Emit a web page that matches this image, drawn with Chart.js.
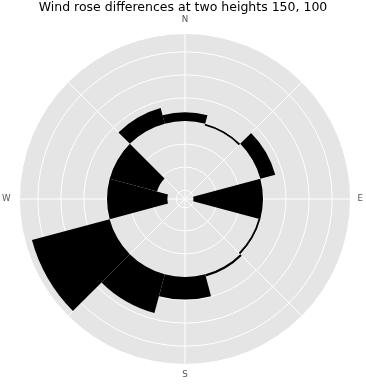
<!DOCTYPE html>
<html>
<head>
<meta charset="utf-8">
<title>Wind rose differences</title>
<script src="https://cdn.jsdelivr.net/npm/chart.js@4/dist/chart.umd.min.js"></script>
<style>
  html, body { margin: 0; padding: 0; background: #ffffff; }
  #wrap { width: 366px; height: 385px; position: relative; }
</style>
</head>
<body>
<div id="wrap"><canvas id="rose"></canvas></div>
<script>
// Wind direction sectors (degrees clockwise from north), one bar per sector
const directions = [0, 30, 60, 90, 120, 150, 180, 210, 240, 270, 300, 330];
// Difference of the direction frequencies between the two heights
const differences = [0.38, -0.08, 0.67, -3.02, -0.08, 0.10, 0.98, 1.74, 3.49, -2.62, -2.13, 0.70];
// Bars start from this radial value and grow outward (positive) or inward (negative)
const baseline = 0;
const sectorWidth = 30;
// Compass labels around the rose, every 45 degrees
const compassLabels = ['N', '', 'E', '', 'S', '', 'W', ''];
// Radial grid circles and radial limits
const ringTicks = [-3, -2, -1, 0, 1, 2, 3];
const radialMin = -3.384;
const radialMax = 3.774;

const DEG = Math.PI / 180;

// Polar bar controller: each arc spans its sector and runs from the baseline to baseline + difference
class DifferenceRoseController extends Chart.PolarAreaController {
  updateElements(arcs, start, count, mode) {
    const scale = this._cachedMeta.rScale;
    const north = scale.getIndexAngle(0) - Math.PI / 2;
    const half = sectorWidth / 2 * DEG;
    const zero = scale.getDistanceFromCenterForValue(baseline);
    for (let i = start; i < start + count; i++) {
      const tip = scale.getDistanceFromCenterForValue(baseline + this.getParsed(i).r);
      const mid = north + directions[i] * DEG;
      this.updateElement(arcs[i], i, {
        x: scale.xCenter,
        y: scale.yCenter,
        startAngle: mid - half,
        endAngle: mid + half,
        innerRadius: Math.min(zero, tip),
        outerRadius: Math.max(zero, tip),
        options: this.resolveDataElementOptions(i, mode)
      }, mode);
    }
  }
}
DifferenceRoseController.id = 'differenceRose';
DifferenceRoseController.defaults = Chart.PolarAreaController.defaults;
DifferenceRoseController.overrides = Chart.PolarAreaController.overrides;
Chart.register(DifferenceRoseController);

// Grey disc behind the polar grid
const discBackground = {
  id: 'discBackground',
  beforeDraw(chart, args, opts) {
    const s = chart.scales.r;
    const ctx = chart.ctx;
    ctx.save();
    ctx.fillStyle = opts.color;
    ctx.beginPath();
    ctx.arc(s.xCenter, s.yCenter, s.drawingArea, 0, Math.PI * 2);
    ctx.fill();
    ctx.restore();
  }
};

const labelPadding = (ctx) => {
  if (ctx.index === 2) return 7.4;
  if (ctx.index === 4) return 5.8;
  if (ctx.index === 6) return 9.4;
  return 9;
};

new Chart(document.getElementById('rose'), {
  type: 'differenceRose',
  data: {
    labels: compassLabels,
    datasets: [{
      data: differences,
      backgroundColor: '#000000',
      borderWidth: 0
    }]
  },
  plugins: [discBackground],
  options: {
    responsive: true,
    maintainAspectRatio: false,
    animation: false,
    events: [],
    layout: { padding: { left: 0, right: 0, top: 0, bottom: 2 } },
    plugins: {
      legend: { display: false },
      tooltip: { enabled: false },
      discBackground: { color: '#e5e5e5' },
      title: {
        display: true,
        text: 'Wind rose differences at two heights 150, 100',
        color: '#000000',
        font: { family: 'DejaVu Sans', size: 12.5, weight: 'normal', lineHeight: 0.92 },
        padding: { top: 2, bottom: 0 }
      }
    },
    scales: {
      r: {
        type: 'radialLinear',
        min: radialMin,
        max: radialMax,
        startAngle: 0,
        afterBuildTicks: (scale) => {
          scale.ticks = ringTicks.map((v) => ({ value: v }));
        },
        ticks: { display: false },
        grid: { display: true, circular: true, color: '#ffffff', lineWidth: 1 },
        angleLines: { display: true, color: '#ffffff', lineWidth: 1 },
        pointLabels: {
          display: true,
          color: '#555555',
          font: { family: 'DejaVu Sans', size: 8.7 },
          padding: labelPadding
        }
      }
    }
  }
});
</script>
</body>
</html>
